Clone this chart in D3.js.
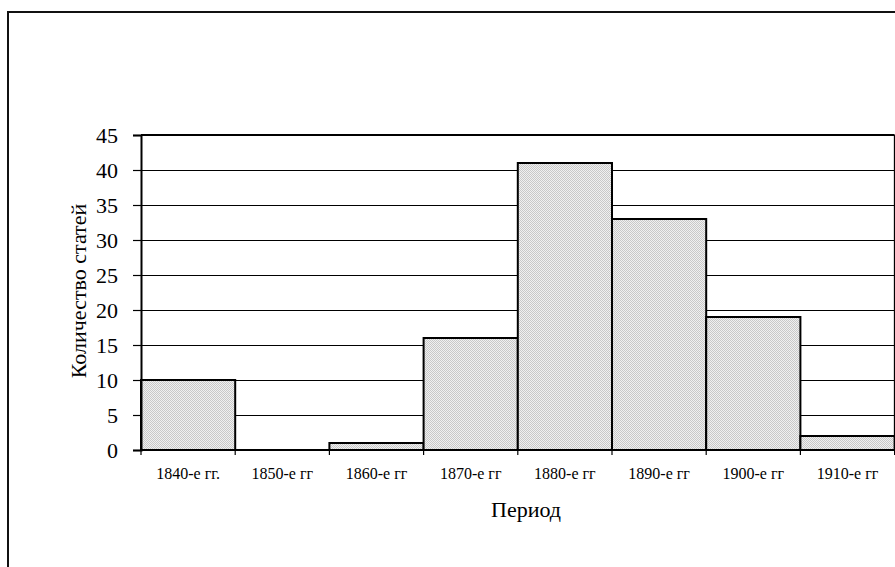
<!DOCTYPE html>
<html>
<head>
<meta charset="utf-8">
<script src="https://cdn.jsdelivr.net/npm/d3@7"></script>
<style>
  body { margin: 0; background: #fff; }
  text { font-family: "Liberation Serif", "Times New Roman", serif; fill: #000; }
</style>
</head>
<body>
<svg id="chart"></svg>
<script>
// data
var periods = ['1840-е гг.', '1850-е гг', '1860-е гг', '1870-е гг', '1880-е гг', '1890-е гг', '1900-е гг', '1910-е гг'];
var counts = [10, 0, 1, 16, 41, 33, 19, 2];
var yTicks = [0, 5, 10, 15, 20, 25, 30, 35, 40, 45];

var svgWidth = 895;
var svgHeight = 567;
var plotLeft = 141, plotRight = 894.6, plotTop = 135, plotBottom = 450;

var svg = d3.select('#chart')
    .attr('width', svgWidth)
    .attr('height', svgHeight);

// stipple pattern for the bars
var pat = svg.append('defs').append('pattern')
    .attr('id', 'dots')
    .attr('width', 2).attr('height', 2)
    .attr('patternUnits', 'userSpaceOnUse');
pat.append('rect').attr('width', 2).attr('height', 2).attr('fill', '#f0f0f0');
pat.append('rect').attr('width', 1).attr('height', 1).attr('fill', '#c8c8c8');
pat.append('rect').attr('x', 1).attr('y', 1).attr('width', 1).attr('height', 1).attr('fill', '#c8c8c8');

// outer frame (runs off the right and bottom edge)
svg.append('rect')
    .attr('x', 8).attr('y', 12)
    .attr('width', 920).attr('height', 600)
    .attr('fill', 'none')
    .attr('stroke', '#111')
    .attr('stroke-width', 2);

var xScale = d3.scaleBand()
    .domain(periods)
    .range([plotLeft, plotRight])
    .padding(0);

var yScale = d3.scaleLinear()
    .domain([0, 45])
    .range([plotBottom, plotTop]);

// gridlines
svg.append('g')
    .selectAll('line')
    .data(yTicks.filter(function(d) { return d > 0 && d < 45; }))
    .enter()
    .append('line')
    .attr('x1', plotLeft).attr('x2', plotRight)
    .attr('y1', function(d) { return yScale(d) + 0.5; })
    .attr('y2', function(d) { return yScale(d) + 0.5; })
    .attr('stroke', '#000')
    .attr('stroke-width', 1);

// top and right border of plot area
svg.append('line')
    .attr('x1', plotLeft).attr('x2', plotRight)
    .attr('y1', plotTop).attr('y2', plotTop)
    .attr('stroke', '#000').attr('stroke-width', 2);
svg.append('line')
    .attr('x1', plotRight).attr('x2', plotRight)
    .attr('y1', plotTop).attr('y2', plotBottom)
    .attr('stroke', '#000').attr('stroke-width', 1.5);

// bars
svg.append('g')
    .selectAll('rect')
    .data(counts)
    .enter()
    .append('rect')
    .attr('x', function(d, i) { return xScale(periods[i]); })
    .attr('y', function(d) { return yScale(d); })
    .attr('width', xScale.bandwidth())
    .attr('height', function(d) { return plotBottom - yScale(d); })
    .attr('fill', 'url(#dots)')
    .attr('stroke', '#000')
    .attr('stroke-width', 2);

// y axis
var yAxis = svg.append('g')
    .attr('transform', 'translate(' + plotLeft + ',0)')
    .call(d3.axisLeft(yScale).tickValues(yTicks).tickSize(8).tickPadding(15));
yAxis.select('.domain').attr('stroke', '#000').attr('stroke-width', 2);
yAxis.selectAll('.tick line').attr('stroke', '#000').attr('stroke-width', 1.2);
yAxis.selectAll('.tick text')
    .style('font-family', '"Liberation Serif", serif')
    .style('font-size', '22px')
    .attr('dy', '0.34em');

// x axis, ticks on category boundaries
var xAxisG = svg.append('g');
xAxisG.append('line')
    .attr('x1', plotLeft).attr('x2', plotRight)
    .attr('y1', plotBottom).attr('y2', plotBottom)
    .attr('stroke', '#000').attr('stroke-width', 2);
var bounds = periods.map(function(p) { return xScale(p); }).concat([plotRight]);
xAxisG.selectAll('line.tk')
    .data(bounds)
    .enter()
    .append('line')
    .attr('class', 'tk')
    .attr('x1', function(d) { return d; })
    .attr('x2', function(d) { return d; })
    .attr('y1', plotBottom).attr('y2', plotBottom + 5)
    .attr('stroke', '#000').attr('stroke-width', 1.2);
xAxisG.selectAll('text')
    .data(periods)
    .enter()
    .append('text')
    .attr('x', function(d) { return xScale(d) + xScale.bandwidth() / 2; })
    .attr('y', 479)
    .attr('text-anchor', 'middle')
    .style('font-size', '16px')
    .text(function(d) { return d; });

// axis titles
svg.append('text')
    .attr('x', 526).attr('y', 517)
    .attr('text-anchor', 'middle')
    .style('font-size', '22px')
    .text('Период');

svg.append('text')
    .attr('transform', 'translate(86,' + 291 + ') rotate(-90)')
    .attr('text-anchor', 'middle')
    .style('font-size', '22px')
    .text('Количество статей');
</script>
</body>
</html>
